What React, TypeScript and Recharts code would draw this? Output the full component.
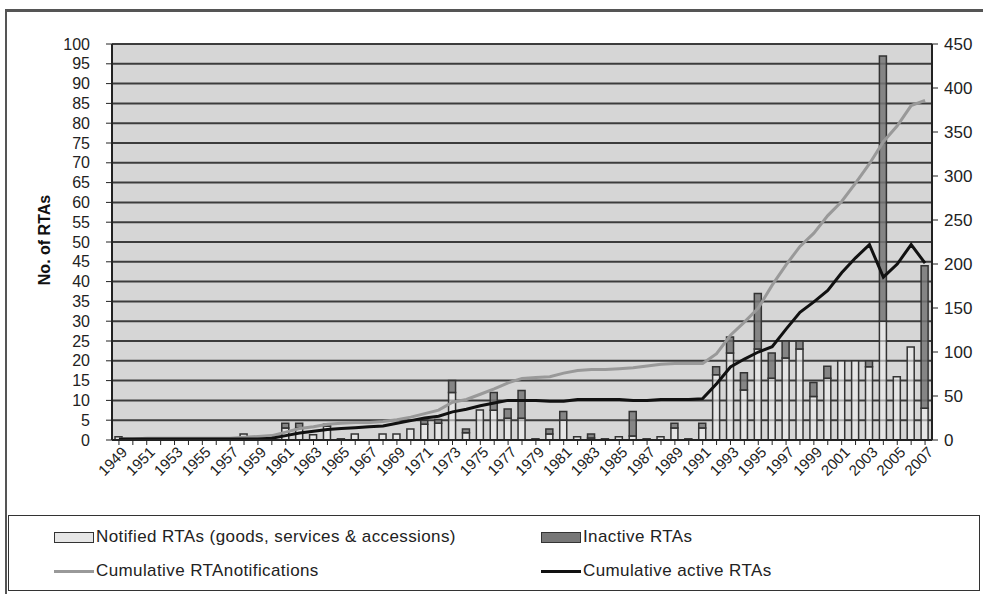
import React from 'react';
import { ComposedChart, Bar, Line, XAxis, YAxis, CartesianGrid } from 'recharts';

const years = [
  '1949','1950','1951','1952','1953','1954','1955','1956','1957','1958',
  '1959','1960','1961','1962','1963','1964','1965','1966','1967','1968',
  '1969','1970','1971','1972','1973','1974','1975','1976','1977','1978',
  '1979','1980','1981','1982','1983','1984','1985','1986','1987','1988',
  '1989','1990','1991','1992','1993','1994','1995','1996','1997','1998',
  '1999','2000','2001','2002','2003','2004','2005','2006','2007',
];

// bars, left axis
const notified = [
  0.8, 0, 0.5, 0, 0, 0, 0, 0, 0, 1.5,
  0, 0.5, 3, 3, 1.3, 3.5, 0.3, 1.5, 0, 1.5,
  1.5, 2.8, 4, 4.2, 12, 1.8, 7.6, 7.5, 5.5, 5.5,
  0.3, 1.5, 5, 0.8, 0.5, 0.3, 0.8, 1, 0.3, 0.8,
  3, 0.3, 3, 16.5, 22, 12.6, 23, 15.6, 20.7, 23,
  11, 15.6, 20, 20, 18.5, 30, 16, 23.5, 8,
];
const inactive = [
  0, 0, 0, 0, 0, 0, 0, 0, 0, 0,
  0, 0, 1.2, 1.2, 0, 0.5, 0, 0, 0, 0,
  0, 0, 1, 1, 3, 1, 0, 4.5, 2.3, 7,
  0, 1.3, 2.2, 0, 1, 0, 0, 6.2, 0, 0,
  1.2, 0, 1.2, 2, 4, 4.4, 14, 6.4, 4.3, 2,
  3.5, 3, 0, 0, 1.5, 67, 0, 0, 36,
];

// lines, right axis
const cumNotified = [
  1, 1, 2, 2, 2, 2, 2, 2, 2, 3,
  4, 5, 9, 13, 15, 18, 19, 20, 20, 21,
  23, 26, 30, 34, 43, 46, 52, 58, 65, 70,
  71, 72, 76, 79, 80, 80, 81, 82, 84, 86,
  87, 87, 87, 98, 119, 134, 150, 176, 199, 220,
  235, 255, 271, 292, 314, 339, 357, 380, 386,
];
const cumActive = [
  1, 1, 1, 1, 1, 1, 1, 1, 1, 1,
  1, 2, 5, 8, 10, 12, 13, 14, 15, 16,
  19, 22, 25, 27, 32, 35, 39, 42, 45, 45,
  45, 44, 44, 46, 46, 46, 46, 45, 45, 46,
  46, 46, 47, 64, 83, 92, 100, 106, 126, 145,
  157, 170, 190, 207, 222, 185, 200, 222, 201,
];

const leftTicks = [0,5,10,15,20,25,30,35,40,45,50,55,60,65,70,75,80,85,90,95,100];
const rightTicks = [0,50,100,150,200,250,300,350,400,450];

const data = years.map((y, i) => ({
  year: y,
  notified: notified[i],
  inactive: inactive[i],
  cumNotified: cumNotified[i],
  cumActive: cumActive[i],
}));

const FONT = '"Liberation Sans", Arial, sans-serif';

// every category gets a tick mark, every other one a label
const YearTick = (props: any) => {
  const { x, y, payload, index } = props;
  if (index % 2 !== 0) return null;
  return (
    <g transform={`translate(${x},${y + 4})`}>
      <text x={5} y={0} dy={8} textAnchor="end" transform="rotate(-45)"
        fontFamily={FONT} fontSize={15} fill="#222">{payload.value}</text>
    </g>
  );
};

export default function App() {
  return (
    <div style={{ position: 'absolute', left: 0, top: 0, width: 983, height: 594, background: '#fff', overflow: 'hidden', fontFamily: FONT }}>
      <div style={{ position: 'absolute', left: 5, top: 9, width: 1000, height: 600, borderTop: '3px solid #555', borderLeft: '2px solid #555' }} />
      <div style={{ position: 'absolute', left: 45, top: 240, transform: 'translate(-50%,-50%) rotate(-90deg)', fontWeight: 'bold', fontSize: 16, color: '#111', whiteSpace: 'nowrap' }}>
        No. of RTAs
      </div>
      <div style={{ position: 'absolute', left: 0, top: 0 }}>
        <ComposedChart width={983} height={510} data={data}
          margin={{ top: 44, right: 6, bottom: 10, left: 40 }} barGap={0}>
          <CartesianGrid yAxisId="left" vertical={false} fill="#d6d6d6" stroke="#3c3c3c" strokeWidth={2} />
          <XAxis dataKey="year" interval={0} height={60} tick={<YearTick />}
            tickLine={{ stroke: '#222' }} axisLine={{ stroke: '#222', strokeWidth: 2 }} tickSize={5} />
          <YAxis yAxisId="left" domain={[0, 100]} ticks={leftTicks} width={72} interval={0}
            tick={{ fontFamily: FONT, fontSize: 16, fill: '#222' }} tickSize={6} tickMargin={16}
            axisLine={{ stroke: '#222', strokeWidth: 2 }} tickLine={{ stroke: '#222' }} />
          <YAxis yAxisId="right" orientation="right" domain={[0, 450]} ticks={rightTicks} width={45} interval={0}
            tick={{ fontFamily: FONT, fontSize: 17, fill: '#222' }} tickSize={6} tickMargin={6}
            axisLine={{ stroke: '#222', strokeWidth: 2 }} tickLine={{ stroke: '#222' }} />
          <Bar yAxisId="left" dataKey="notified" stackId="a" barSize={7} fill="#efefef" fillOpacity={0.6}
            stroke="#333" strokeWidth={1.5} isAnimationActive={false} />
          <Bar yAxisId="left" dataKey="inactive" stackId="a" barSize={7} fill="#777" fillOpacity={0.85}
            stroke="#333" strokeWidth={1.5} isAnimationActive={false} />
          <Line yAxisId="right" type="linear" dataKey="cumNotified" stroke="#999" strokeWidth={3}
            dot={false} isAnimationActive={false} />
          <Line yAxisId="right" type="linear" dataKey="cumActive" stroke="#111" strokeWidth={3}
            dot={false} isAnimationActive={false} />
        </ComposedChart>
      </div>
      <div style={{ position: 'absolute', left: 8, top: 515, width: 970, height: 74, border: '1.5px solid #333', fontSize: 17, letterSpacing: 0.4, color: '#222' }}>
        <div style={{ position: 'absolute', left: 45, top: 11, display: 'flex', alignItems: 'center' }}>
          <span style={{ display: 'inline-block', width: 38, height: 9, background: '#e6e6e6', border: '1.5px solid #333', marginRight: 2 }} />
          Notified RTAs (goods, services &amp; accessions)
        </div>
        <div style={{ position: 'absolute', left: 532, top: 11, display: 'flex', alignItems: 'center' }}>
          <span style={{ display: 'inline-block', width: 38, height: 9, background: '#777', border: '1.5px solid #333', marginRight: 2 }} />
          Inactive RTAs
        </div>
        <div style={{ position: 'absolute', left: 45, top: 45, display: 'flex', alignItems: 'center' }}>
          <span style={{ display: 'inline-block', width: 40, height: 3, background: '#999', marginRight: 2 }} />
          Cumulative RTAnotifications
        </div>
        <div style={{ position: 'absolute', left: 532, top: 45, display: 'flex', alignItems: 'center' }}>
          <span style={{ display: 'inline-block', width: 40, height: 3, background: '#111', marginRight: 2 }} />
          Cumulative active RTAs
        </div>
      </div>
    </div>
  );
}
